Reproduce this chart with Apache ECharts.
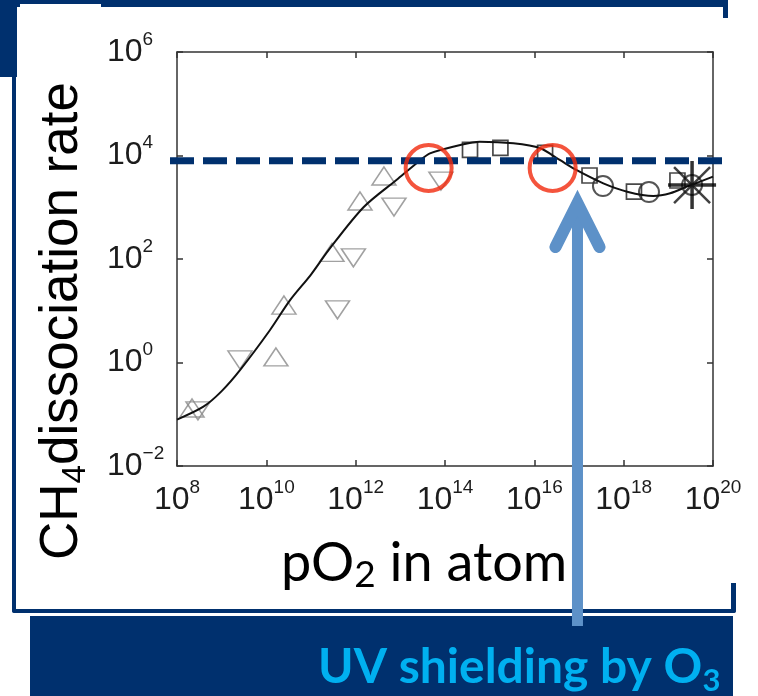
<!DOCTYPE html>
<html>
<head>
<meta charset="utf-8">
<script src="https://cdn.jsdelivr.net/npm/echarts@6/dist/echarts.min.js"></script>
<style>
  html, body { margin: 0; padding: 0; background: #ffffff; }
  #chart { width: 758px; height: 696px; }
</style>
</head>
<body>
<div id="chart"></div>
<script>
// CH4 dissociation rate against O2 partial pressure (log-log)

// model runs, [pO2, rate]
const triUp = [[2.17e8, 0.132], [1.64e10, 1.28], [2.48e10, 12.9], [2.95e11, 134], [1.25e12, 1320], [4.3e12, 4020]];
const triDown = [[2.95e8, 0.116], [2.57e9, 1.12], [3.92e11, 10.4], [8.9e11, 105], [7.2e12, 1010], [8.1e13, 3210]];
const squares = [[3.63e14, 12800], [1.74e15, 14000], [1.74e16, 11200], [1.72e17, 4110], [1.7e18, 2010], [1.6e19, 3290]];
const circles = [[3.44e17, 2570], [3.69e18, 1970], [3.4e19, 2690]];
const crosses = [[3.4e19, 2690]];

// fitted curve through the runs
const fitCurve = [
  [1e8, 0.079], [3.9e8, 0.14], [1e9, 0.28], [2.6e9, 0.72], [1.2e10, 4.2], [3.4e10, 16],
  [1e11, 50], [2.5e11, 150], [1.5e12, 1000], [8.3e12, 3400], [2.8e13, 8100], [4.6e13, 11000],
  [2.2e14, 16000], [6e14, 18500], [3.4e15, 17200], [1.35e16, 13800], [3.7e16, 8200],
  [8.9e16, 5200], [3.5e17, 2900], [1.2e18, 2000], [4.6e18, 1650], [1.1e19, 1860],
  [2.6e19, 2500], [1e20, 3900]
];

// present-day level and the two crossings of it
const thresholdRate = 7900;
const thresholdSpan = [[0, thresholdRate], [1, thresholdRate]];
const crossings = [[4.3e13, 5730], [2.57e16, 5730]];

// onset of ozone shielding (arrow tip)
const o3Onset = [9.25e16, 2150];

// axis ranges (decades shown as 10^n, every second decade labelled)
const xRange = [1e8, 1e20];
const yRange = [1e-2, 1e6];
const decadeStep = 2;

const NAVY = '#00306e';
const ARROW = '#5d91c8';
const RED = '#f1290d';
const LABEL = '#1c1c1c';

function powLabel(v) {
  const e = Math.round(Math.log10(v));
  return '{b|10}{s|' + (e < 0 ? '\u2212' + (-e) : e) + '}';
}
const labelRich = {
  b: { fontFamily: 'Liberation Sans', fontSize: 32, color: LABEL, lineHeight: 44 },
  s: { fontFamily: 'Liberation Sans', fontSize: 19, color: LABEL, lineHeight: 17, verticalAlign: 'top' }
};

const frameLine = { show: true, onZero: false, lineStyle: { color: '#333', width: 1.5 } };
const frameTick = { show: true, inside: true, length: 6, lineStyle: { color: '#333', width: 1.5 } };

const hollow = (c, w) => ({ color: 'rgba(0,0,0,0)', borderColor: c, borderWidth: w });

function logAxis(extra) {
  return Object.assign({
    type: 'log', logBase: 10, interval: decadeStep,
    axisLine: frameLine, axisTick: frameTick,
    splitLine: { show: false }, minorTick: { show: false }, minorSplitLine: { show: false }
  }, extra);
}

const chart = echarts.init(document.getElementById('chart'), null, { renderer: 'canvas' });

chart.setOption({
  animation: false,
  backgroundColor: '#ffffff',
  grid: [
    { left: 177, top: 52, width: 536, height: 414 },
    { left: 170, top: 52, width: 555, height: 414 }
  ],
  xAxis: [
    logAxis({ gridIndex: 0, min: xRange[0], max: xRange[1], position: 'bottom',
      axisLabel: { margin: 12, fontSize: 32, fontFamily: 'Liberation Sans', color: LABEL, formatter: powLabel, rich: labelRich } }),
    logAxis({ gridIndex: 0, min: xRange[0], max: xRange[1], position: 'top', axisLabel: { show: false } }),
    { type: 'value', gridIndex: 1, min: 0, max: 1, show: false }
  ],
  yAxis: [
    logAxis({ gridIndex: 0, min: yRange[0], max: yRange[1], position: 'left',
      axisLabel: { margin: 70, align: 'left', fontSize: 32, fontFamily: 'Liberation Sans', color: LABEL, formatter: powLabel, rich: labelRich } }),
    logAxis({ gridIndex: 0, min: yRange[0], max: yRange[1], position: 'right', axisLabel: { show: false } }),
    { type: 'log', logBase: 10, gridIndex: 1, min: yRange[0], max: yRange[1], show: false }
  ],
  series: [
    { type: 'line', name: 'fit', xAxisIndex: 0, yAxisIndex: 0, data: fitCurve, smooth: 0.3,
      symbol: 'none', lineStyle: { color: '#111', width: 2 }, z: 3 },
    { type: 'scatter', name: 'up', xAxisIndex: 0, yAxisIndex: 0, data: triUp, symbol: 'triangle',
      symbolSize: [24, 18], itemStyle: hollow('#8a8a8a', 1.5), z: 2 },
    { type: 'scatter', name: 'down', xAxisIndex: 0, yAxisIndex: 0, data: triDown, symbol: 'triangle',
      symbolRotate: 180, symbolSize: [24, 18], itemStyle: hollow('#8a8a8a', 1.5), z: 2 },
    { type: 'scatter', name: 'square', xAxisIndex: 0, yAxisIndex: 0, data: squares, symbol: 'rect',
      symbolSize: 15, itemStyle: hollow('#1a1a1a', 1.7), z: 2 },
    { type: 'scatter', name: 'circle', xAxisIndex: 0, yAxisIndex: 0, data: circles, symbol: 'circle',
      symbolSize: 20, itemStyle: hollow('#2a2a2a', 2), z: 2 },
    { type: 'scatter', name: 'plus', xAxisIndex: 0, yAxisIndex: 0, data: crosses,
      symbol: 'path://M24 0L24 48M0 24L48 24', symbolSize: 48, itemStyle: hollow('#000', 3.5), z: 4 },
    { type: 'scatter', name: 'cross', xAxisIndex: 0, yAxisIndex: 0, data: crosses,
      symbol: 'path://M0 0L40 40M40 0L0 40', symbolSize: 36, itemStyle: hollow('#111', 2.5), z: 4 },
    { type: 'line', name: 'threshold', xAxisIndex: 2, yAxisIndex: 2, data: thresholdSpan, symbol: 'none',
      lineStyle: { color: NAVY, width: 7, type: [24, 9] }, z: 6 },
    { type: 'scatter', name: 'crossings', xAxisIndex: 0, yAxisIndex: 0, data: crossings, symbol: 'circle',
      symbolSize: 46, clip: false, itemStyle: hollow(RED, 4), z: 8 }
  ]
});

// arrow anchored at the ozone-shielding onset
const tip = chart.convertToPixel({ gridIndex: 0 }, o3Onset);
const vx = tip[0], vy = tip[1] + 13;

const tok = (font, size, weight, fill, lineHeight, vAlign) => {
  const t = { fontFamily: font, fontSize: size, fontWeight: weight, fill: fill, lineHeight: lineHeight };
  if (vAlign) t.verticalAlign = vAlign;
  return t;
};

chart.setOption({
  graphic: [
    // slide frame
    { type: 'rect', id: 'topStrip', z: 0, shape: { x: 0, y: 0, width: 728, height: 7 }, style: { fill: NAVY } },
    { type: 'rect', id: 'cornerBlock', z: 0, shape: { x: 0, y: 0, width: 17, height: 77 }, style: { fill: NAVY } },
    { type: 'rect', id: 'tab', z: 1, shape: { x: 20, y: 4, width: 81, height: 73 }, style: { fill: '#ffffff' } },
    { type: 'rect', id: 'rightTop', z: 0, shape: { x: 723, y: 0, width: 5, height: 18, r: [0, 3, 0, 0] }, style: { fill: NAVY } },
    { type: 'rect', id: 'leftEdge', z: 0, shape: { x: 12, y: 77, width: 4, height: 536, r: [0, 0, 0, 3] }, style: { fill: NAVY } },
    { type: 'rect', id: 'bottomEdge', z: 0, shape: { x: 12, y: 609, width: 724, height: 4, r: 2 }, style: { fill: NAVY } },
    { type: 'rect', id: 'rightBottom', z: 0, shape: { x: 731, y: 583, width: 5, height: 30, r: [0, 0, 3, 0] }, style: { fill: NAVY } },
    { type: 'rect', id: 'banner', z: 0, shape: { x: 30, y: 616, width: 703, height: 80 }, style: { fill: NAVY } },
    // titles
    { type: 'text', id: 'yTitle', z: 5, x: 62, y: 321, rotation: Math.PI / 2,
      style: { text: '{m|CH}{s|4}{m|dissociation rate}', align: 'center', verticalAlign: 'middle',
        rich: { m: tok('Liberation Sans', 53, 'normal', '#000', 60),
                s: tok('Liberation Sans', 33, 'normal', '#000', 25, 'bottom') } } },
    { type: 'text', id: 'xTitle', z: 5, x: 281, y: 564,
      style: { text: '{m|pO}{s|2}{m| in atom}', align: 'left', verticalAlign: 'middle',
        rich: { m: tok('Lato', 54, 'normal', '#000', 60),
                s: tok('Lato', 37, 'normal', '#000', 32, 'bottom') } } },
    { type: 'text', id: 'note', z: 5, x: 318, y: 668,
      style: { text: '{m|UV shielding by O}{s|3}', align: 'left', verticalAlign: 'middle',
        rich: { m: tok('Lato', 48, 'bold', '#00b0f0', 56),
                s: tok('Lato', 31, 'bold', '#00b0f0', 26, 'bottom') } } },
    // arrow
    { type: 'line', id: 'shaft', z: 20, shape: { x1: vx, y1: vy + 4, x2: vx, y2: 626 },
      style: { stroke: ARROW, lineWidth: 11 } },
    { type: 'polyline', id: 'head', z: 20,
      shape: { points: [[vx - 22, vy + 44], [vx, vy], [vx + 22, vy + 44]] },
      style: { stroke: ARROW, lineWidth: 12, lineCap: 'round', lineJoin: 'miter', fill: null } }
  ]
});
</script>
</body>
</html>
